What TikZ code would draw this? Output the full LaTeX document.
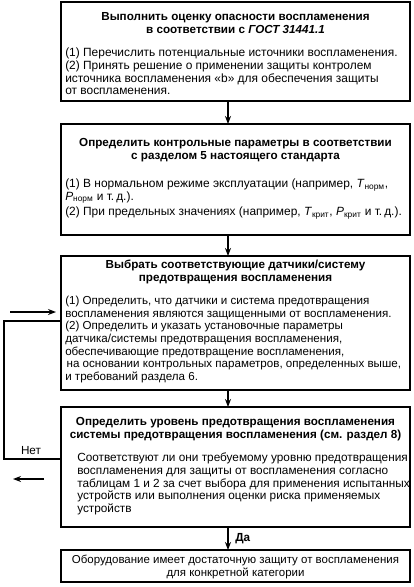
\documentclass[tikz,border=0pt]{standalone}
\usepackage{fontspec}
\setmainfont{Liberation Sans}
\usetikzlibrary{arrows.meta,fit}
\begin{document}
\begin{tikzpicture}[x=0.75pt,y=-0.75pt,
  box/.style={draw,line width=1.6pt,inner sep=0pt,outer sep=0pt},
  ttl/.style={font=\fontsize{8.75pt}{9.7pt}\selectfont\bfseries,align=center,inner sep=0pt,anchor=north},
  body/.style={font=\fontsize{8.95pt}{9.45pt}\selectfont,align=left,inner sep=0pt,anchor=north west},
  lbl/.style={font=\fontsize{8.8pt}{9.6pt}\selectfont,inner sep=0pt},
  arr/.style={line width=1.2pt,-{Stealth[length=6pt,width=4.5pt]}},
  fb/.style={line width=1.4pt},
  ]
\useasboundingbox (0,0) rectangle (414,587);

% boxes
\node[box,fit={(61,2)(410,101)}] (b1) {};
\node[box,fit={(61,124)(410,235)}] (b2) {};
\node[box,fit={(61,256)(410,390)}] (b3) {};
\node[box,fit={(61,407)(410,527)}] (b4) {};
\node[box,fit={(61,550)(410,582)}] (b5) {};

% box 1
\node[ttl] (t1) at (235.5,12) {Выполнить оценку опасности воспламенения\\в соответствии с \textit{ГОСТ 31441.1}};
\node[body] (d1) at (65,48) {(1) Перечислить потенциальные источники воспламенения.\\
(2) Принять решение о применении защиты контролем\\
источника воспламенения «b» для обеспечения защиты\\
от воспламенения.};

% box 2
\node[ttl] (t2) at (235.5,138) {Определить контрольные параметры в соответствии\\с разделом 5 настоящего стандарта};
\node[body] (d2) at (65,179) {(1) В нормальном режиме эксплуатации (например, \textit{T}\textsubscript{норм},\\
\textit{P}\textsubscript{норм} и т.\,д.).\\[2pt]
(2) При предельных значениях (например, \textit{T}\textsubscript{крит}, \textit{P}\textsubscript{крит} и т.\,д.).};

% box 3
\node[ttl] (t3) at (235.5,260) {Выбрать соответствующие датчики/систему\\предотвращения воспламенения};
\node[body,font=\fontsize{8.7pt}{9.45pt}\selectfont] (d3) at (65,296) {(1) Определить, что датчики и система предотвращения\\
воспламенения являются защищенными от воспламенения.\\
(2) Определить и указать установочные параметры\\
датчика/системы предотвращения воспламенения,\\
обеспечивающие предотвращение воспламенения,\\
\hspace*{1pt}на основании контрольных параметров, определенных выше,\\
и требований раздела 6.};

% box 4
\node[ttl] (t4) at (235.5,417) {Определить уровень предотвращения воспламенения\\системы предотвращения воспламенения (см. раздел 8)};
\node[body,font=\fontsize{8.85pt}{9.45pt}\selectfont] (d4) at (77,453) {Соответствуют ли они требуемому уровню предотвращения\\
воспламенения для защиты от воспламенения согласно\\
таблицам 1 и 2 за счет выбора для применения испытанных\\
устройств или выполнения оценки риска применяемых\\
устройств};

% box 5
\node[lbl,align=center,anchor=north,font=\fontsize{8.6pt}{9.6pt}\selectfont] (t5) at (235.5,555) {Оборудование имеет достаточную защиту от воспламенения\\для конкретной категории};

% main arrows
\coordinate (ax) at (228,0);
\draw[arr] (b1.south -| ax) -- (b2.north -| ax);
\draw[arr] (b2.south -| ax) -- (b3.north -| ax);
\draw[arr] (b3.south -| ax) -- (b4.north -| ax);
\draw[arr] (b4.south -| ax) -- (b5.north -| ax);
\node[lbl,font=\fontsize{8.8pt}{9.6pt}\selectfont\bfseries,anchor=west] (da) at (235,539) {Да};

% feedback loop
\coordinate (fx) at (4,0);
\coordinate (ny) at (0,459);
\coordinate (my) at (0,321);
\draw[fb] (b4.west |- ny) -- (fx |- ny) -- (fx |- my) -- (b3.west |- my);
\node[lbl] (net) at (31,451) {Нет};
\coordinate (r1) at (10,312);
\coordinate (r2) at (56,312);
\draw[arr] (r1) -- (r2);
\coordinate (l1) at (44,479);
\coordinate (l2) at (13,479);
\draw[arr] (l1) -- (l2);
\end{tikzpicture}
\end{document}
